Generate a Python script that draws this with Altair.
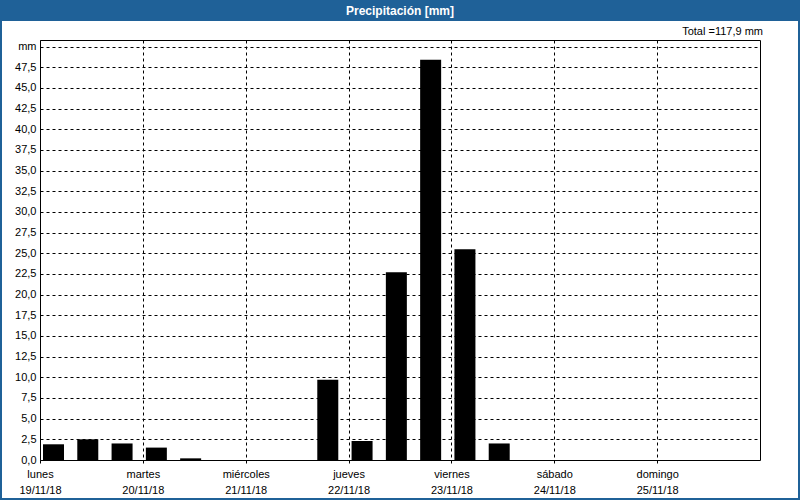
import json
import altair as alt
import pandas as pd

# ---- data ----
title_text = "Precipitación [mm]"
total_label = "Total =117,9 mm"
day_names = ["lunes", "martes", "miércoles", "jueves", "viernes", "sábado", "domingo"]
day_dates = ["19/11/18", "20/11/18", "21/11/18", "22/11/18", "23/11/18", "24/11/18", "25/11/18"]
day_hours = [0, 24, 48, 72, 96, 120, 144]
# 8-hour periods (start hour counted from lunes 19/11/18 00:00)
period_start = [0, 8, 16, 24, 32, 40, 48, 56, 64, 72, 80, 88, 96, 104,
                112, 120, 128, 136, 144, 152, 160]
precip_mm = [1.9, 2.5, 2.0, 1.5, 0.2, 0.0, 0.0, 0.0, 9.7, 2.3, 22.7, 48.4, 25.5, 2.0,
             0.0, 0.0, 0.0, 0.0, 0.0, 0.0, 0.0]
y_ticks = [0, 2.5, 5, 7.5, 10, 12.5, 15, 17.5, 20, 22.5, 25, 27.5, 30, 32.5, 35,
           37.5, 40, 42.5, 45, 47.5, 50]

BLUE = "#1f6198"
FONT = "Liberation Sans"
W, H = 720, 420

df = pd.DataFrame({"start": period_start, "mm": precip_mm})

names_js = json.dumps(day_names, ensure_ascii=False)
dates_js = json.dumps(day_dates, ensure_ascii=False)
x_label_expr = (f"[{names_js}[round(datum.value/24)], "
                f"{dates_js}[round(datum.value/24)]]")
y_label_expr = ("datum.value >= 50 ? 'mm' : "
                "replace(format(datum.value, '.1f'), '.', ',')")

bars = alt.Chart(df).transform_calculate(
    x0="datum.start + 0.7", x1="datum.start + 5.6"
).mark_rect(color="black").encode(
    x=alt.X("x0:Q",
            scale=alt.Scale(domain=[0, 168], nice=False, zero=False),
            axis=alt.Axis(values=day_hours, labelExpr=x_label_expr, title=None,
                          grid=True, gridColor="black", gridDash=[3, 3], gridOpacity=1,
                          ticks=True, tickColor="black", tickDash=[3, 3], tickSize=5,
                          domain=False, labelAngle=0, labelFont=FONT, labelFontSize=11,
                          labelColor="black", labelPadding=3, labelLineHeight=16,
                          labelOverlap=False, labelFlush=False)),
    x2="x1:Q",
    y=alt.Y("mm:Q",
            scale=alt.Scale(domain=[0, 50.8], nice=False),
            axis=alt.Axis(values=y_ticks, labelExpr=y_label_expr, title=None,
                          grid=True, gridColor="black", gridDash=[3, 3], gridOpacity=1,
                          ticks=False, domain=False, labelFont=FONT, labelFontSize=11,
                          labelColor="black", labelPadding=4, labelOverlap=False)),
    y2=alt.datum(0),
)

deco = pd.DataFrame({"title": [title_text], "total": [total_label]})

title_bar = alt.Chart(deco).mark_rect(color=BLUE).encode(
    x=alt.value(-40), x2=alt.value(760), y=alt.value(-40), y2=alt.value(-19)
)
title_txt = alt.Chart(deco).mark_text(
    color="white", font=FONT, fontSize=12, fontWeight="bold", align="center", baseline="middle"
).encode(x=alt.value(360), y=alt.value(-29), text="title:N")
total_txt = alt.Chart(deco).mark_text(
    color="black", font=FONT, fontSize=11, align="right", baseline="middle"
).encode(x=alt.value(723), y=alt.value(-8), text="total:N")
frame = alt.Chart(deco).mark_rect(filled=False, stroke=BLUE, strokeWidth=2).encode(
    x=alt.value(-39), x2=alt.value(759), y=alt.value(-39), y2=alt.value(459)
)

chart = alt.layer(bars, title_bar, title_txt, total_txt, frame).properties(
    width=W, height=H,
    autosize=alt.AutoSizeParams(type="none"),
    padding={"left": 40, "top": 40, "right": 40, "bottom": 40},
    background="white",
).configure_view(stroke="black", strokeWidth=1)

chart.save("out.html", embed_options={"renderer": "svg", "actions": False})
